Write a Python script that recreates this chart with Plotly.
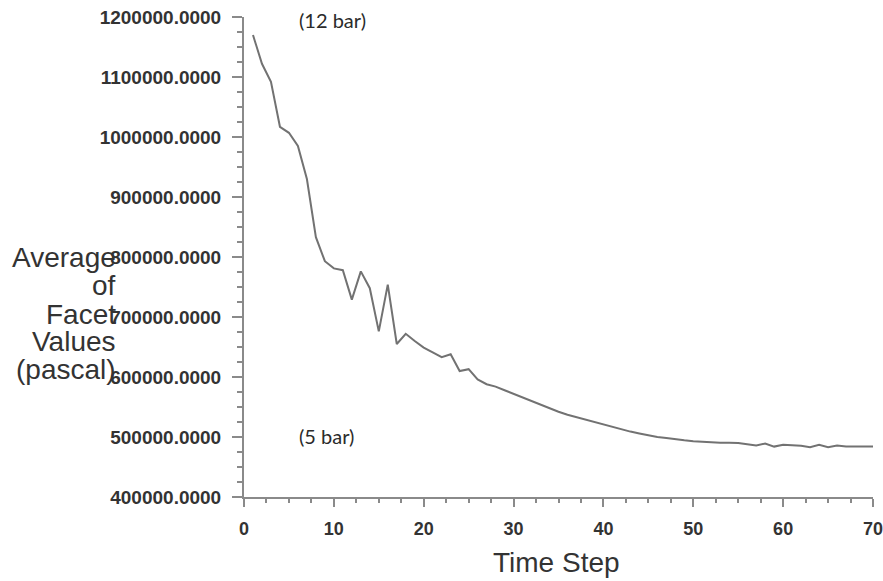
import plotly.graph_objects as go

time_step = list(range(1, 71))
avg_facet_pa = [
    1170000, 1122000, 1092000, 1017000, 1007000, 985000, 930000, 833000, 793000, 781000,
    778000, 729000, 776000, 748000, 676000, 754000, 655000, 672000, 660000, 649000,
    641000, 633000, 638000, 610000, 613000, 596000, 588000, 584000, 578000, 572000,
    566000, 560000, 553000, 547000, 542000, 537000, 533000, 529000, 524000, 520000,
    516000, 512000, 509000, 506000, 503000, 500000, 498500, 496000, 494500, 493000,
    492000, 491000, 490500, 490500, 490000, 488000, 486000, 489000, 484000, 487000,
    486000, 485500, 483000, 487000, 483000, 486000, 484000, 484000, 484000, 484000,
]
y_title_lines = ["Average", "of", "Facet", "Values", "(pascal)"]
x_title = "Time Step"
notes = [("(12 bar)", 5.85, 1195000), ("(5 bar)", 5.85, 502000)]

W, H = 883, 581
L, R, T, B = 244, 10, 17, 84
pw, ph = W - L - R, H - T - B

fig = go.Figure()
fig.add_trace(go.Scatter(x=time_step, y=avg_facet_pa, mode="lines",
                         line=dict(color="#727272", width=2), showlegend=False))

axis_col = "#8a8a8a"
tick_font = dict(family="Liberation Sans, Arial", size=19, color="#333333", weight="bold")
fig.update_xaxes(range=[0, 70], dtick=10, tick0=0, showgrid=False, zeroline=False,
                 automargin=False, ticklabeloverflow="allow",
                 showline=True, linecolor=axis_col, linewidth=2,
                 ticks="outside", ticklen=8, tickwidth=1.5, tickcolor=axis_col,
                 ticklabelstandoff=6, tickfont=dict(tick_font, size=18),
                 minor=dict(dtick=2.5, ticks="outside", ticklen=4, tickcolor=axis_col, tickwidth=1.5))
fig.update_yaxes(range=[400000, 1200000], dtick=100000, tick0=0, tickformat=".4f",
                 showgrid=False, zeroline=False, automargin=False, ticklabeloverflow="allow",
                 showline=True, linecolor=axis_col, linewidth=2,
                 ticks="outside", ticklen=10, tickwidth=1.5, tickcolor=axis_col,
                 ticklabelstandoff=7, tickfont=tick_font,
                 minor=dict(dtick=25000, ticks="outside", ticklen=5, tickcolor=axis_col, tickwidth=1.5))

title_font = dict(family="Liberation Sans, Arial", size=28, color="#333333")
line_px = [257, 285, 314, 341, 369]
for txt, py in zip(y_title_lines, line_px):
    fig.add_annotation(text=txt, xref="paper", yref="paper",
                       x=(118 - L) / pw, y=1 - (py - T) / ph,
                       xanchor="right", yanchor="middle", showarrow=False, font=title_font)

fig.add_annotation(text=x_title, xref="paper", yref="paper",
                   x=(556 - L) / pw, y=1 - (562 - T) / ph,
                   xanchor="center", yanchor="middle", showarrow=False,
                   font=dict(family="Liberation Sans, Arial", size=28, color="#333333"))

for txt, xv, yv in notes:
    fig.add_annotation(text=txt, x=xv, y=yv, xref="x", yref="y",
                       xanchor="left", yanchor="middle", showarrow=False,
                       font=dict(family="Lato, Open Sans", size=20, color="#2b2b2b"))

fig.update_layout(width=W, height=H, margin=dict(l=L, r=R, t=T, b=B),
                  plot_bgcolor="white", paper_bgcolor="white")
fig.write_html("out.html", config={"displayModeBar": False},
               post_script="document.body.style.margin='0';")
